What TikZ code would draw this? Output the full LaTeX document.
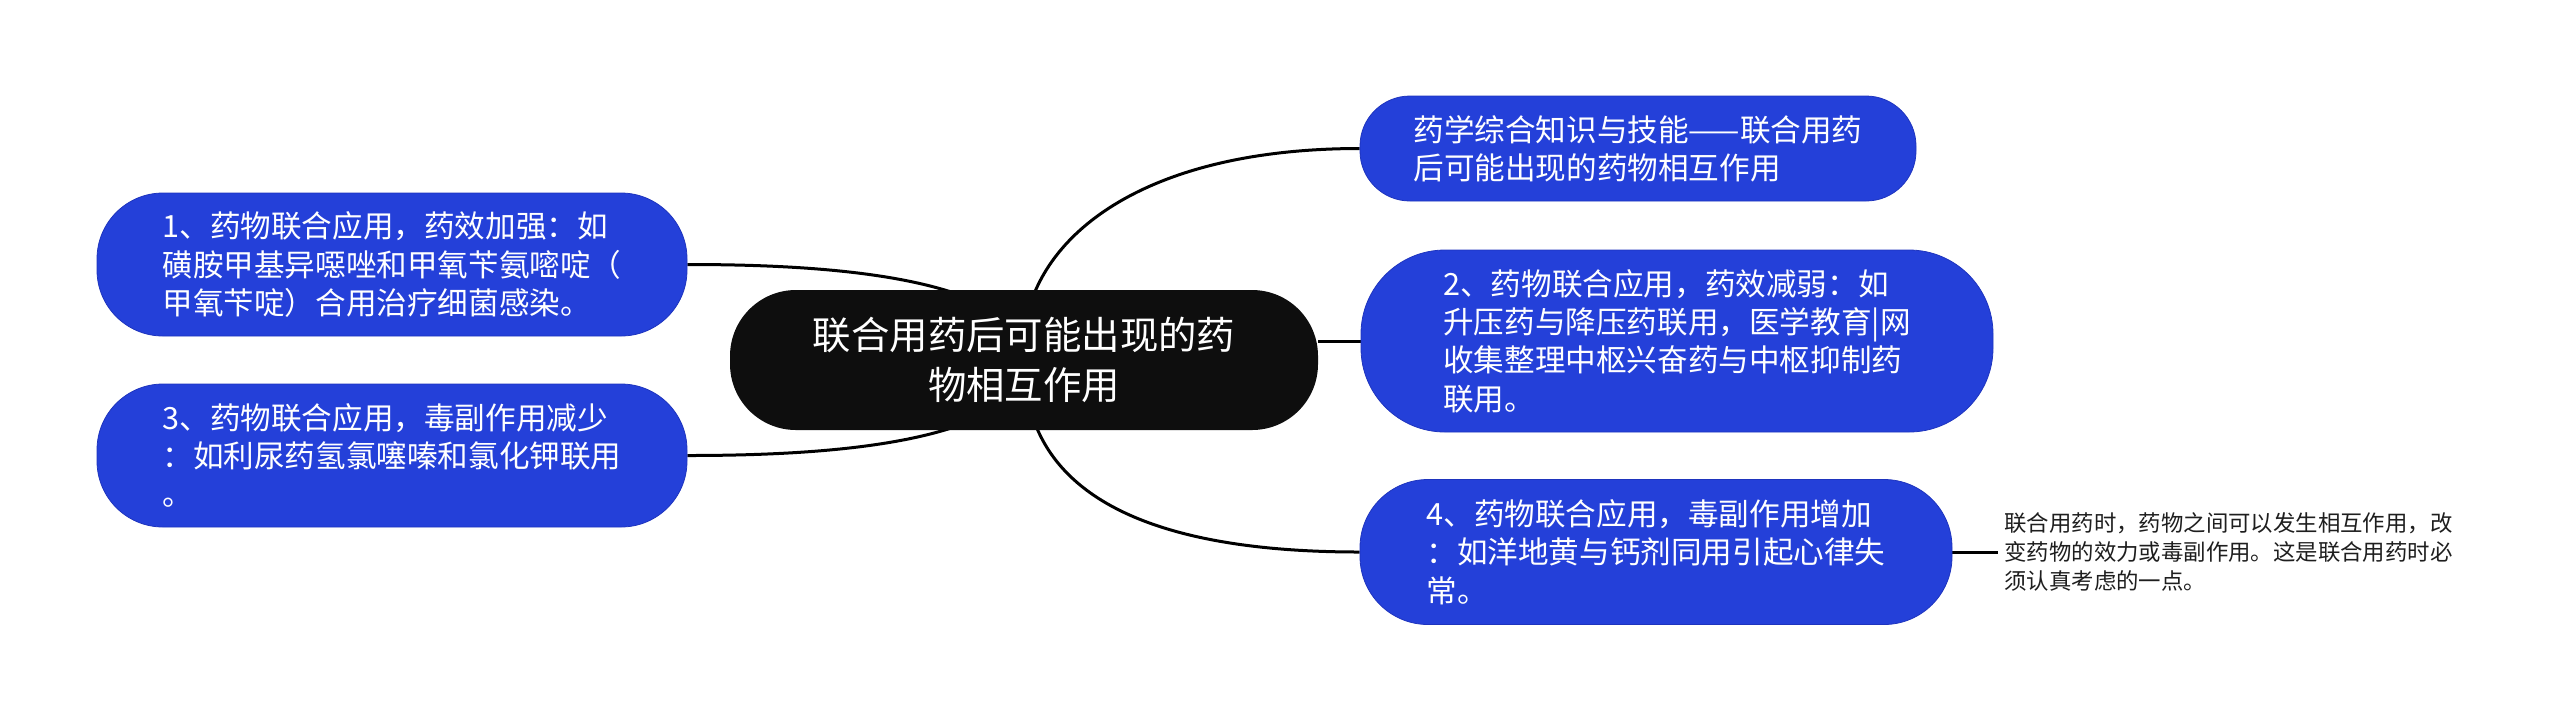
\documentclass[tikz,border=0pt]{standalone}
\usepackage{fontspec}
\newfontfamily\cjk{Noto Sans CJK SC}
\usetikzlibrary{calc,backgrounds}
\definecolor{nodeblue}{RGB}{36,64,217}
\definecolor{nodeedge}{RGB}{30,52,190}
\definecolor{rootblack}{RGB}{14,14,14}
\definecolor{notegray}{RGB}{30,30,30}
\begin{document}
\begin{tikzpicture}[x=0.5pt,y=-0.5pt,
  topic/.style={shape=rectangle, fill=nodeblue, draw=nodeedge, line width=0.4pt,
    text=white, align=left, inner sep=0pt,
    font=\cjk\fontsize{15.3}{19.2}\selectfont},
  root/.style={shape=rectangle, fill=rootblack, text=white, align=center, inner sep=0pt,
    minimum width=294pt, minimum height=70pt, rounded corners=33pt,
    font=\cjk\fontsize{19.2}{25}\selectfont},
  notetext/.style={text=notegray, align=left, inner xsep=3pt, inner ysep=0pt, anchor=west,
    font=\cjk\fontsize{11.2}{14.7}\selectfont},
  link/.style={draw=black, line width=1.5pt}]
\useasboundingbox (0,0) rectangle (2560,720);

\node[root] (c) at (1024,360) {联合用药后可能出现的药\\物相互作用};

\node[topic, minimum width=295pt, minimum height=71.5pt, rounded corners=33pt]
  (n1) at (392,264.5) {1、药物联合应用，药效加强：如\\磺胺甲基异噁唑和甲氧苄氨嘧啶（\\甲氧苄啶）合用治疗细菌感染。};
\node[topic, minimum width=295pt, minimum height=71.5pt, rounded corners=33pt]
  (n3) at (392,455.5) {3、药物联合应用，毒副作用减少\\：如利尿药氢氯噻嗪和氯化钾联用\\。};
\node[topic, minimum width=278pt, minimum height=52.5pt, rounded corners=25pt]
  (t) at (1638,148.5) {药学综合知识与技能——联合用药\\后可能出现的药物相互作用};
\node[topic, minimum width=316pt, minimum height=91pt, rounded corners=42pt]
  (n2) at (1677,341) {2、药物联合应用，药效减弱：如\\升压药与降压药联用，医学教育|网\\收集整理中枢兴奋药与中枢抑制药\\联用。};
\node[topic, minimum width=296pt, minimum height=72.5pt, rounded corners=34pt]
  (n4) at (1656,552) {4、药物联合应用，毒副作用增加\\：如洋地黄与钙剂同用引起心律失\\常。};
\node[notetext] (note) at (1998,552) {联合用药时，药物之间可以发生相互作用，改\\变药物的效力或毒副作用。这是联合用药时必\\须认真考虑的一点。};

\begin{pgfonlayer}{background}
\draw[link] ($(c.north)+(-74,2)$) .. controls ($(c.north)+(-144,-20)$) and ($(n1.east)+(93,0)$) .. (n1.east);
\draw[link] ($(c.south)+(-74,-2)$) .. controls ($(c.south)+(-144,20)$) and ($(n3.east)+(93,0)$) .. (n3.east);
\draw[link] ($(c.north)+(11,2)$) .. controls ($(c.north)+(46,-80)$) and ($(t.west)+(-180,0)$) .. (t.west);
\draw[link] ($(c.south)+(13,-2)$) .. controls ($(c.south)+(48,80)$) and ($(n4.west)+(-180,0)$) .. (n4.west);
\draw[link] (c.east |- n2.west) -- (n2.west);
\draw[link] (n4.east) -- (note.west);
\end{pgfonlayer}
\end{tikzpicture}
\end{document}
